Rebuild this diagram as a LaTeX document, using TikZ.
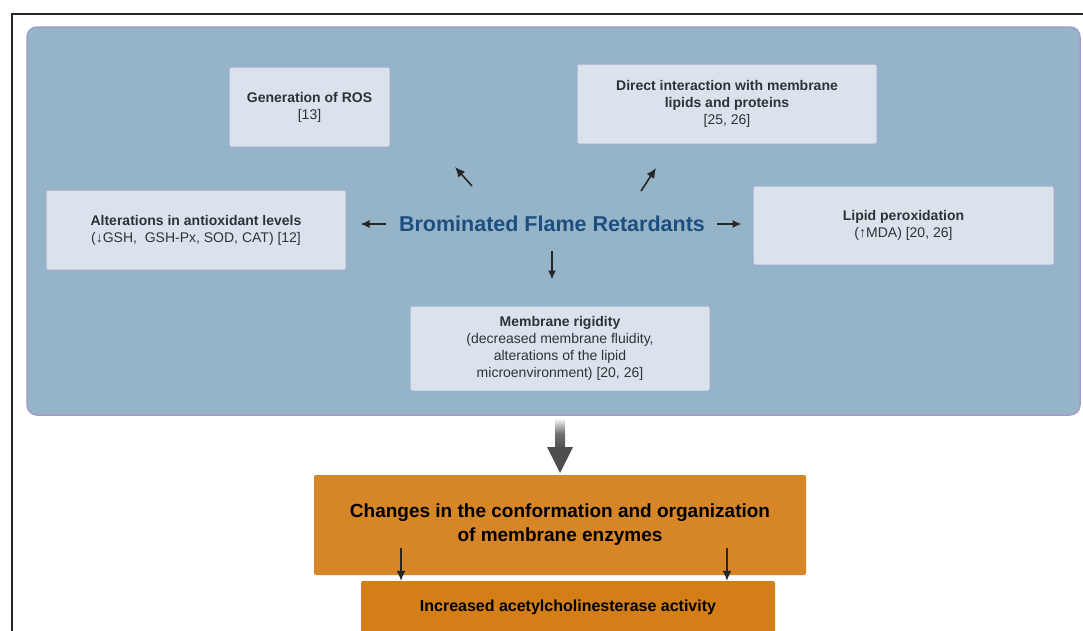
\documentclass[tikz,border=0pt]{standalone}
\usepackage{fontspec}
\setmainfont{Liberation Sans}
\usepackage{tikz}
\usetikzlibrary{arrows.meta,calc}
\definecolor{Panel}{RGB}{150, 180, 200}
\definecolor{PanelEdge}{RGB}{160, 156, 204}
\definecolor{Card}{RGB}{218, 227, 236}
\definecolor{CardEdge}{RGB}{160, 172, 208}
\definecolor{Title}{RGB}{29, 79, 126}
\definecolor{Ink}{RGB}{46, 50, 56}
\definecolor{Amber}{RGB}{214, 134, 38}
\definecolor{AmberDark}{RGB}{212, 126, 23}
\definecolor{Shaft}{RGB}{77, 77, 77}

\begin{document}
\begin{tikzpicture}[x=1pt, y=-1pt,
    card/.style = {draw = CardEdge, fill = Card, line width = 1pt, rounded corners = 2pt,
                   align = center, text = Ink, font = \fontsize{14}{17}\selectfont,
                   inner sep = 0pt},
    slab/.style = {draw = none, rounded corners = 2pt, align = center,
                   inner sep = 0pt, text = black},
    arr/.style  = {-{Latex[length=9pt, width=8pt]}, line width = 1.6pt, draw = black!85}
    ]
    \useasboundingbox (0,0) rectangle (1083,630);
    \fill[white] (0,0) rectangle (1083,630);
    % Frame
    \draw[line width = 2pt, black!85]
    (12,640) to (12,14) to (1090,14)
    ;
    % Panel
    \draw[fill = Panel, draw = PanelEdge, line width = 1.5pt, rounded corners = 10pt]
    (27,27) rectangle (1080,415)
    ;
    % Cards
    \node[card, minimum width = 161pt, minimum height = 80pt] (ros) at (309.5,107)
        {\textbf{Generation of ROS}\\{}[13]};
    \node[card, minimum width = 300pt, minimum height = 80pt] (lipmem) at (727,104)
        {\textbf{Direct interaction with membrane}\\\textbf{lipids and proteins}\\{}[25, 26]};
    \node[card, minimum width = 300pt, minimum height = 80pt] (antiox) at (196,230)
        {\textbf{Alterations in antioxidant levels}\\(↓GSH,\ \ GSH-Px, SOD, CAT) [12]};
    \node[card, minimum width = 301pt, minimum height = 79pt] (perox) at (903.5,225.5)
        {\textbf{Lipid peroxidation}\\(↑MDA) [20, 26]};
    \node[card, minimum width = 300pt, minimum height = 85pt] (rigid) at (560,348.5)
        {\textbf{Membrane rigidity}\\(decreased membrane fluidity,\\alterations of the lipid\\microenvironment) [20, 26]};
    % Centre
    \node[text = Title, font = \bfseries\fontsize{21.5}{24}\selectfont, inner sep = 0pt] (bfr) at (552,224)
        {Brominated Flame Retardants};
    \coordinate (rosTail) at (472,186);
    \coordinate (rosTip) at (455,167);
    \coordinate (memTail) at (641,191);
    \coordinate (memTip) at (656,168);
    \draw[arr, -{Latex[length=10pt, width=9pt]}] (rosTail) -- (rosTip);
    \draw[arr, -{Latex[length=10pt, width=9pt]}] (memTail) -- (memTip);
    \draw[arr, shorten <= 13pt, shorten >= 14pt] (bfr.west) -- (bfr.west -| antiox.east);
    \draw[arr, shorten <= 12pt, shorten >= 11pt] (bfr.east) -- (bfr.east -| perox.west);
    \draw[arr, shorten <= 19pt, shorten >= 26pt] (bfr.south) -- (bfr.south |- rigid.north);
    % Big arrow
    \shade[top color = white, bottom color = Shaft, middle color = Shaft!80]
    (555,418) rectangle (565,449)
    ;
    \fill[Shaft]
    (547,447) to (573,447) to (560,473) to (547,447)
    ;
    % Enzymes
    \node[slab, fill = Amber, minimum width = 492pt, minimum height = 100pt,
          font = \bfseries\fontsize{19}{24}\selectfont] (enz) at (560,525)
        {Changes in the conformation and organization\\of membrane enzymes};
    \node[slab, fill = AmberDark, minimum width = 414pt, minimum height = 52pt,
          font = \bfseries\fontsize{16}{18}\selectfont] (ache) at (568,607)
        {Increased acetylcholinesterase activity};
    \coordinate (leftTail) at (401,548);
    \coordinate (rightTail) at (727,548);
    \draw[arr, line width = 1.3pt, -{Latex[length=10pt, width=9pt]}] (leftTail) -- (leftTail |- ache.north);
    \draw[arr, line width = 1.3pt, -{Latex[length=10pt, width=9pt]}] (rightTail) -- (rightTail |- ache.north);
\end{tikzpicture}
\end{document}
